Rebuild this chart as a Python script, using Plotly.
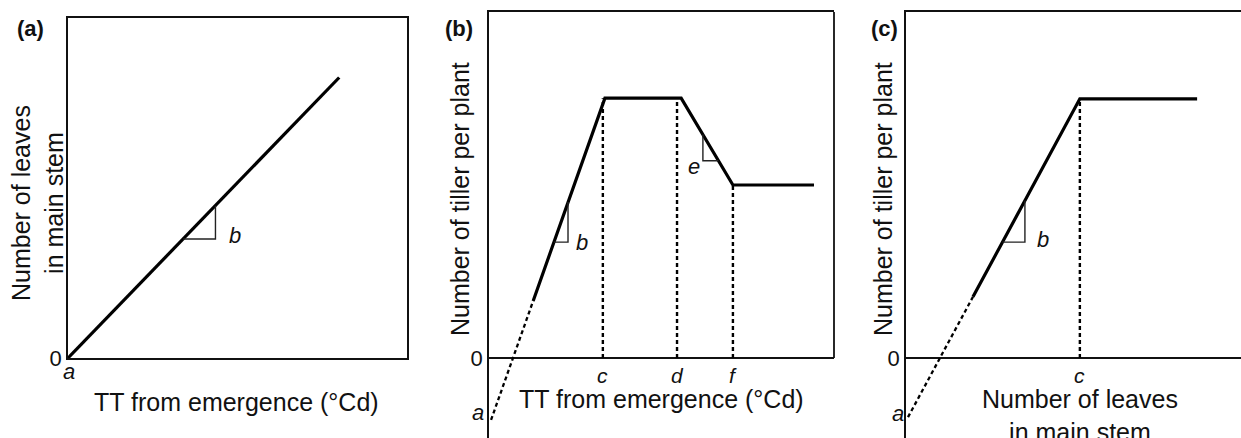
import plotly.graph_objects as go

W, H = 1241, 438
FONT = "Liberation Sans, Arial, sans-serif"
INK = "#111111"

# ---------------- data ----------------
# Panel (a): leaves on main stem vs TT
a_x = [0, 8.0]
a_y = [0, 8.25]
a_tri_x = [3.4, 4.35, 4.35]
a_tri_y = [3.5, 3.5, 4.48]

# Panel (b): tillers vs TT
b_dash_x = [0.06, 1.28]
b_dash_y = [-1.79, 1.65]
b_solid_x = [1.28, 3.36, 5.57, 7.07, 9.42]
b_solid_y = [1.65, 7.51, 7.51, 5.0, 5.0]
b_vline_x = [3.3, 5.45, 7.07]
b_vline_top = [7.51, 7.51, 5.0]
b_vline_labels = ["c", "d", "f"]
b_tri_b_x = [1.88, 2.29, 2.29]
b_tri_b_y = [3.35, 3.35, 4.51]
b_tri_e_x = [6.2, 6.2, 6.65]
b_tri_e_y = [6.46, 5.70, 5.70]

# Panel (c): tillers vs leaves
c_dash_x = [0.06, 2.0]
c_dash_y = [-1.71, 1.77]
c_solid_x = [2.0, 5.19, 8.69]
c_solid_y = [1.77, 7.49, 7.49]
c_vline_x = [5.19]
c_vline_top = [7.49]
c_vline_labels = ["c"]
c_tri_x = [2.88, 3.55, 3.55]
c_tri_y = [3.35, 3.35, 4.55]

Y_MIN_BC = -2.312

# ---------------- figure ----------------
fig = go.Figure()

def seg_lines(xs, tops):
    X, Y = [], []
    for x, t in zip(xs, tops):
        X += [x, x, None]
        Y += [0, t, None]
    return X, Y

solid = dict(color="black", width=3.2)
dashed = dict(color="black", width=2.4, dash="4px,3px")
dashed_diag = dict(color="black", width=2.3, dash="4px,3px")
thin = dict(color="#222222", width=1.4)

# (a)
fig.add_trace(go.Scatter(x=a_x, y=a_y, mode="lines", line=solid, xaxis="x", yaxis="y"))
fig.add_trace(go.Scatter(x=a_tri_x, y=a_tri_y, mode="lines", line=thin, xaxis="x", yaxis="y"))

# (b)
vx, vy = seg_lines(b_vline_x, b_vline_top)
fig.add_trace(go.Scatter(x=vx, y=vy, mode="lines", line=dashed, xaxis="x2", yaxis="y2"))
fig.add_trace(go.Scatter(x=b_dash_x, y=b_dash_y, mode="lines", line=dashed_diag, xaxis="x2", yaxis="y2"))
fig.add_trace(go.Scatter(x=b_solid_x, y=b_solid_y, mode="lines", line=solid, xaxis="x2", yaxis="y2"))
fig.add_trace(go.Scatter(x=b_tri_b_x, y=b_tri_b_y, mode="lines", line=thin, xaxis="x2", yaxis="y2"))
fig.add_trace(go.Scatter(x=b_tri_e_x, y=b_tri_e_y, mode="lines", line=thin, xaxis="x2", yaxis="y2"))

# (c)
vx, vy = seg_lines(c_vline_x, c_vline_top)
fig.add_trace(go.Scatter(x=vx, y=vy, mode="lines", line=dashed, xaxis="x3", yaxis="y3"))
fig.add_trace(go.Scatter(x=c_dash_x, y=c_dash_y, mode="lines", line=dashed_diag, xaxis="x3", yaxis="y3"))
fig.add_trace(go.Scatter(x=c_solid_x, y=c_solid_y, mode="lines", line=solid, xaxis="x3", yaxis="y3"))
fig.add_trace(go.Scatter(x=c_tri_x, y=c_tri_y, mode="lines", line=thin, xaxis="x3", yaxis="y3"))

AXLW = 1.8
tickfont = dict(family=FONT, size=22, color=INK)

common_x = dict(range=[0, 10], showgrid=False, zeroline=False, showticklabels=False,
                ticks="", showline=True, linecolor=INK, linewidth=AXLW, fixedrange=True,
                automargin=False)
common_y = dict(showgrid=False, ticks="", showline=True, linecolor=INK, linewidth=AXLW,
                tickvals=[0], ticktext=["0"], tickfont=tickfont, ticklabelstandoff=0,
                fixedrange=True, automargin=False)

fig.update_layout(
    width=W, height=H, autosize=False,
    margin=dict(l=0, r=0, t=0, b=0, pad=0, autoexpand=False),
    paper_bgcolor="white", plot_bgcolor="white",
    showlegend=False,
    xaxis=dict(common_x, domain=[68 / W, 407 / W], mirror=True, anchor="y"),
    yaxis=dict(common_y, domain=[1 - 358 / H, 1 - 18 / H], range=[0, 10], mirror=True,
               zeroline=False, anchor="x"),
    xaxis2=dict(common_x, domain=[489 / W, 834 / W], side="top", anchor="y2"),
    yaxis2=dict(common_y, domain=[0, 1 - 12 / H], range=[Y_MIN_BC, 10], zeroline=True,
                zerolinecolor=INK, zerolinewidth=AXLW, anchor="x2"),
    xaxis3=dict(common_x, domain=[906 / W, 1.0], side="top", anchor="y3"),
    yaxis3=dict(common_y, domain=[0, 1 - 12 / H], range=[Y_MIN_BC, 10], zeroline=True,
                zerolinecolor=INK, zerolinewidth=AXLW, anchor="x3"),
)

# right border of panel (b), from zero to top
fig.add_shape(type="line", xref="x2 domain", x0=1, x1=1, yref="y2", y0=0, y1=10,
              line=dict(color=INK, width=AXLW))

ann = []
def txt(text, x, y, xref="paper", yref="paper", size=25, angle=0, xshift=0, yshift=0,
        xanchor="center", yanchor="middle"):
    ann.append(dict(text=text, x=x, y=y, xref=xref, yref=yref, showarrow=False,
                    textangle=angle, xshift=xshift, yshift=yshift,
                    xanchor=xanchor, yanchor=yanchor, borderpad=0,
                    font=dict(family=FONT, size=size, color=INK)))

# titles
txt("Number of leaves<br>in main stem", 37 / W, 1 - 203 / H, angle=-90)
txt("TT from emergence (°Cd)", 237 / W, 1 - 402 / H)
txt("Number of tiller per plant", 460 / W, 1 - 199 / H, angle=-90)
txt("TT from emergence (°Cd)", 661 / W, 1 - 399 / H)
txt("Number of tiller per plant", 883 / W, 1 - 199 / H, angle=-90)
txt("Number of leaves<br>in main stem", 1080 / W, 1 - 415 / H)

# panel tags
txt("<b>(a)</b>", 30 / W, 1 - 29 / H, size=22)
txt("<b>(b)</b>", 459 / W, 1 - 29 / H, size=22)
txt("<b>(c)</b>", 884 / W, 1 - 29 / H, size=22)

# italic parameter labels
LS = 22
txt("<i>a</i>", a_x[0], a_y[0], "x", "y", size=LS, xshift=1, yshift=-13)
txt("<i>b</i>", a_tri_x[1], a_tri_y[1], "x", "y", size=LS, xshift=20, yshift=3)

txt("<i>a</i>", 0, b_dash_y[0], "x2", "y2", size=LS, xshift=-11, yshift=7)
txt("<i>b</i>", b_tri_b_x[1], b_tri_b_y[1], "x2", "y2", size=LS, xshift=14, yshift=0)
txt("<i>e</i>", b_tri_e_x[1], b_tri_e_y[1], "x2", "y2", size=LS, xshift=-9, yshift=-6)
for x, lab in zip(b_vline_x, b_vline_labels):
    txt("<i>%s</i>" % lab, x, 0, "x2", "y2", size=LS - 1, yshift=-17)

txt("<i>a</i>", 0, c_dash_y[0], "x3", "y3", size=LS, xshift=-8, yshift=4)
txt("<i>b</i>", c_tri_x[1], c_tri_y[1], "x3", "y3", size=LS, xshift=18, yshift=3)
for x, lab in zip(c_vline_x, c_vline_labels):
    txt("<i>%s</i>" % lab, x, 0, "x3", "y3", size=LS - 1, yshift=-17)

fig.update_layout(annotations=ann)

fig.write_html("out.html", config={"responsive": False})
